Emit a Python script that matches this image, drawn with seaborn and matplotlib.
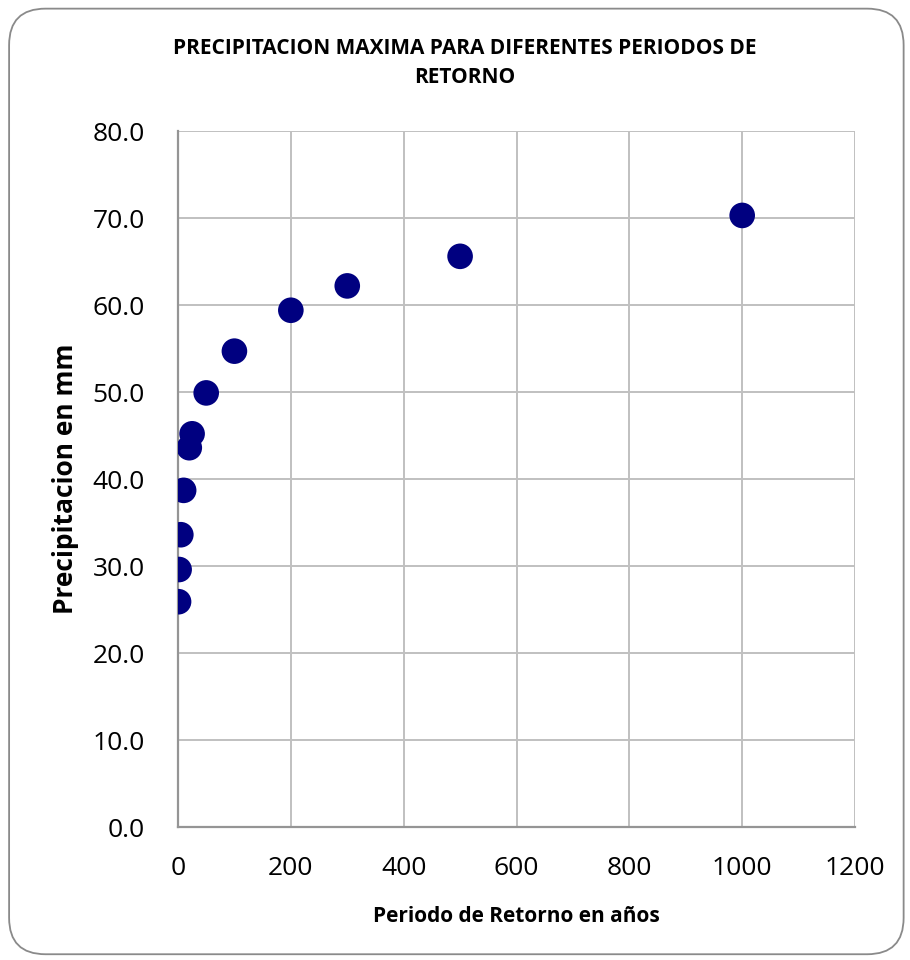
import matplotlib
matplotlib.use("Agg")
import matplotlib.pyplot as plt
from matplotlib.patches import FancyBboxPatch
import seaborn as sns
import pandas as pd

# Return periods (years) and maximum precipitation (mm)
periodos = [1, 2, 5, 10, 20, 25, 50, 100, 200, 300, 500, 1000]
precipitacion = [25.9, 29.6, 33.6, 38.7, 43.6, 45.2, 49.9, 54.7, 59.4, 62.2, 65.6, 70.3]

x_ticks = [0, 200, 400, 600, 800, 1000, 1200]
y_ticks = [0, 10, 20, 30, 40, 50, 60, 70, 80]

df = pd.DataFrame({"periodo": periodos, "precipitacion": precipitacion})

sns.set_theme(style="white")
plt.rcParams["font.family"] = ["Open Sans", "DejaVu Sans"]
plt.rcParams["text.color"] = "black"
plt.rcParams["axes.labelcolor"] = "black"

fig = plt.figure(figsize=(9.10, 9.60), dpi=100)
ax = fig.add_axes([0.1956, 0.1385, 0.744, 0.725])

# rounded chart frame
frame = FancyBboxPatch((0.010, 0.006), 0.983, 0.985,
                       boxstyle="round,pad=0,rounding_size=0.04",
                       transform=fig.transFigure, facecolor="white",
                       edgecolor="#8a8a8a", linewidth=1.3, zorder=-10,
                       mutation_aspect=910 / 960)
fig.patches.append(frame)

sns.scatterplot(data=df, x="periodo", y="precipitacion", ax=ax,
                color="#000080", s=340, edgecolor="none", zorder=3)

ax.set_xlim(0, 1200)
ax.set_ylim(0, 80)
ax.set_xticks(x_ticks)
ax.set_yticks(y_ticks)
ax.set_xticklabels([str(v) for v in x_ticks])
ax.set_yticklabels([f"{v:.1f}" for v in y_ticks])
ax.tick_params(axis="both", length=0, labelsize=19, colors="black")
ax.tick_params(axis="x", pad=21)
ax.tick_params(axis="y", pad=24)

ax.grid(True, color="#c0c0c0", linewidth=1.4)
ax.set_axisbelow(True)
for side in ["top", "right"]:
    ax.spines[side].set_visible(False)
for side in ["left", "bottom"]:
    ax.spines[side].set_color("#959595")
    ax.spines[side].set_linewidth(1.6)

ax.set_xlabel("Periodo de Retorno en años", fontsize=15, fontweight="bold",
              labelpad=18)
ax.set_ylabel("Precipitacion en mm", fontsize=19, fontweight="bold",
              labelpad=10)

fig.text(0.511, 0.934, "PRECIPITACION MAXIMA PARA DIFERENTES PERIODOS DE\nRETORNO",
         ha="center", va="center", fontsize=15, fontweight="bold",
         linespacing=1.5)

fig.savefig("out.png", dpi=100)
